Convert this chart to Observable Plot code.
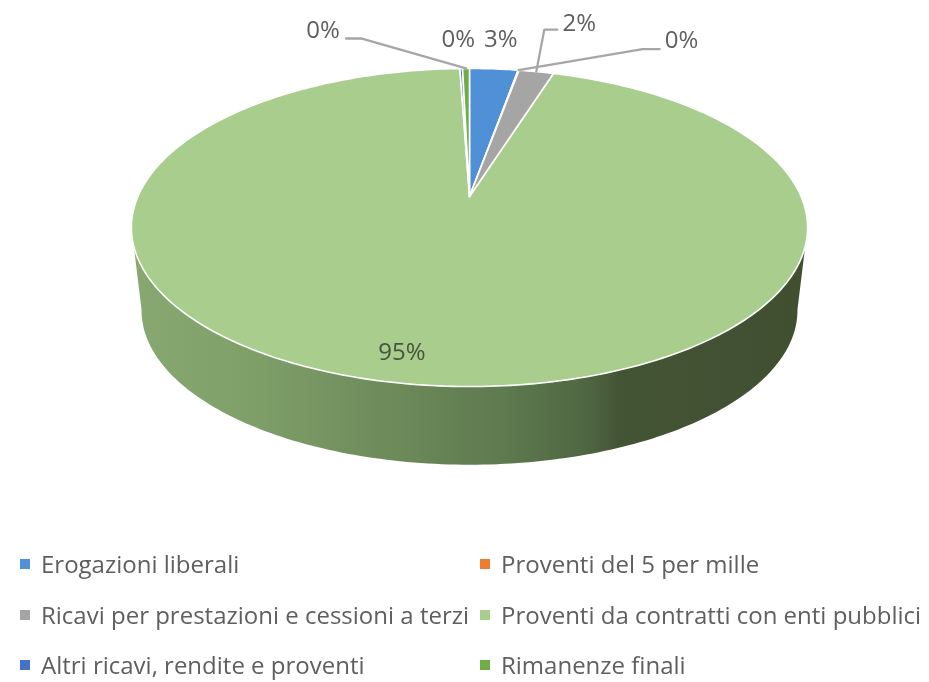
<!DOCTYPE html>
<html><head><meta charset="utf-8">
<script src="https://cdn.jsdelivr.net/npm/d3@7"></script>
<script src="https://cdn.jsdelivr.net/npm/@observablehq/plot@0.6"></script>
<style>
html,body{margin:0;padding:0;background:#fff;overflow:hidden}
#page{filter:blur(0.45px)}
#legend{position:relative;width:929px;height:142px;font-family:"Open Sans",sans-serif;font-size:24px;color:#5f5f5f}
#legend div{position:absolute;line-height:26px;height:26px;white-space:nowrap}
#legend i{position:absolute;left:-21px;top:8px;width:10px;height:10px}
svg{display:block}
</style></head><body>
<div id="page"><div id="chart"></div><div id="legend"></div></div>
<script>
const categories = ["Erogazioni liberali","Proventi del 5 per mille","Ricavi per prestazioni e cessioni a terzi","Proventi da contratti con enti pubblici","Altri ricavi, rendite e proventi","Rimanenze finali"];
const values = [2.8, 0.05, 2.0, 94.6, 0.15, 0.4];
const colors = ["#4f90d6","#ed7d31","#a5a5a5","#a8cd8c","#4472c4","#70ad47"];

// Perspective of the tilted disc
const W = 929, H = 540, persp = 0.195, kx = 331.6, ky = 153, originX = 469, originY = 196;
const depth = {scale: 0.97, drop: 0.548};
const project = (deg, r = 1, lower = false) => {
  const a = deg * Math.PI / 180, X = r * Math.sin(a), Y = r * Math.cos(a), w = 1 + persp * Y;
  return lower
    ? {u: depth.scale * X / w, v: depth.scale * Y / w - depth.drop}
    : {u: X / w, v: Y / w};
};
const total = d3.sum(values);
let acc = 0;
const slices = categories.map((name, i) => {
  const start = acc / total * 360; acc += values[i];
  const end = acc / total * 360;
  return {name, value: values[i], start, end, mid: (start + end) / 2, pct: d3.format(".0%")(values[i] / total)};
});
const sweep = (s, e, lower) => {
  const n = Math.max(2, Math.ceil(Math.abs(e - s)));
  return d3.range(n + 1).map(k => project(s + (e - s) * k / n, 1, lower));
};
const wedges = [3, 0, 1, 2, 4, 5].flatMap(i => {
  const s = slices[i];
  return [{u: 0, v: 0}, ...sweep(s.start, s.end, false), {u: 0, v: 0}].map(p => ({...p, name: s.name}));
});
const side = [...sweep(101, 259, false), ...sweep(259, 101, true)];

// Leader/label layout, pixel offsets from each slice's rim point
const callouts = [
  {i: 5, label: [-143, -38], elbow: [-105, -30], end: [-120, -30]},
  {i: 4, label: [-3, -29]},
  {i: 0, label: [7, -30]},
  {i: 1, label: [163, -30], elbow: [124, -21], end: [141, -21]},
  {i: 2, label: [43, -48], elbow: [8, -42], end: [21, -42]}
];
const off = (p, d) => ({u: p.u + d[0] / kx, v: p.v - d[1] / ky});
const labels = callouts.map(c => {
  const s = slices[c.i], rim = project(s.mid);
  return {...off(rim, c.label), text: s.pct};
});
const leaders = callouts.filter(c => c.elbow).flatMap((c, n) => {
  const rim = project(slices[c.i].mid);
  return [rim, off(rim, c.elbow), off(rim, c.end)].map(p => ({...p, n}));
});
const big = slices[3], bigAnchor = project(big.mid, 0.9);
const bigLabel = [{...off(bigAnchor, [-19, -9]), text: big.pct}];

const defs = () => {
  const ns = "http://www.w3.org/2000/svg";
  const g = document.createElementNS(ns, "linearGradient");
  g.setAttribute("id", "sideShade");
  [[0,"#87a971"],[0.18,"#7f9f69"],[0.4,"#6b8959"],[0.55,"#5e7a4f"],[0.68,"#4f6542"],[0.72,"#435435"],[1,"#414f31"]].forEach(([o,c]) => {
    const st = document.createElementNS(ns, "stop");
    st.setAttribute("offset", o); st.setAttribute("stop-color", c); g.appendChild(st);
  });
  const d = document.createElementNS(ns, "defs"); d.appendChild(g); return d;
};

const plot = Plot.plot({
  width: W, height: H, margin: 0,
  x: {domain: [-originX / kx, (W - originX) / kx], range: [0, W], axis: null},
  y: {domain: [originY / ky, (originY - H) / ky], range: [0, H], axis: null},
  color: {domain: categories, range: colors},
  marks: [
    defs,
    Plot.line(side, {x: "u", y: "v", fill: "url(#sideShade)", stroke: "none"}),
    Plot.line(wedges, {x: "u", y: "v", z: "name", fill: "name", stroke: "white", strokeWidth: 1.6, strokeLinejoin: "round"}),
    Plot.line(leaders, {x: "u", y: "v", z: "n", stroke: "#a6a6a6", strokeWidth: 2.3}),
    Plot.text(labels, {x: "u", y: "v", text: "text", fill: "#5f5f5f", fontSize: 24, fontFamily: "Open Sans"}),
    Plot.text(bigLabel, {x: "u", y: "v", text: "text", fill: "#465540", fontSize: 24, fontFamily: "Open Sans"})
  ]
});
document.getElementById("chart").appendChild(plot);

const legend = d3.select("#legend");
categories.forEach((c, i) => {
  const row = Math.floor(i / 2), col = i % 2;
  const item = legend.append("div")
    .style("left", (col ? 501 : 41) + "px")
    .style("top", (11 + row * 50.5) + "px");
  item.append("i").style("background", colors[i]);
  item.append("span").text(c);
});
</script></body></html>
